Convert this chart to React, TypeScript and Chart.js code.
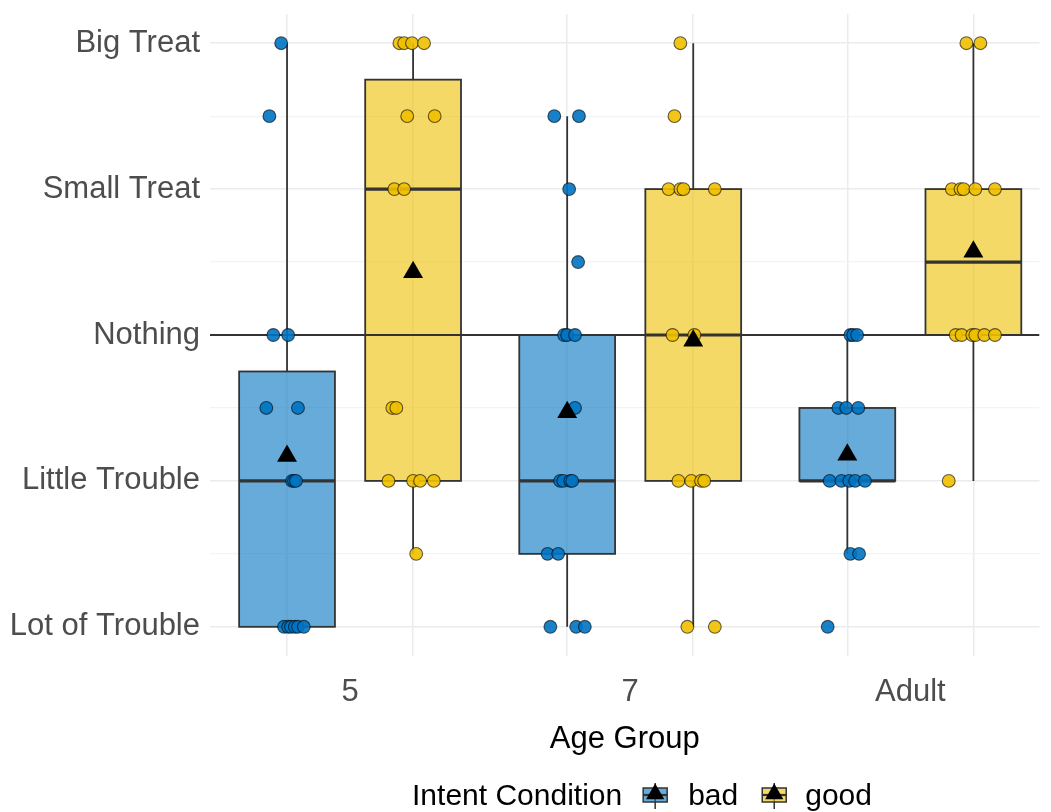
import React, { useEffect, useRef } from 'react';
import { Chart, registerables } from 'chart.js';

Chart.register(...registerables);

const FONT = '"Liberation Sans", Arial, sans-serif';

// ---- categories / labels ----
const ageGroups = ['5', '7', 'Adult'];
const outcomeLabels = ['Lot of Trouble', 'Little Trouble', 'Nothing', 'Small Treat', 'Big Treat'];
const conditionNames = ['bad', 'good'];
const legendTitle = 'Intent Condition';
const xTitle = 'Age Group';

// ---- box statistics (per age group) ----
const badQ1 = [1, 1.5, 2];
const badMedian = [2, 2, 2];
const badQ3 = [2.75, 3, 2.5];
const badWhiskerLow = [1, 1, 1.5];
const badWhiskerHigh = [5, 4.5, 3];
const badMean = [2.17, 2.47, 2.18];

const goodQ1 = [2, 2, 3];
const goodMedian = [4, 3, 3.5];
const goodQ3 = [4.75, 4, 4];
const goodWhiskerLow = [1.5, 1, 2];
const goodWhiskerHigh = [5, 5, 5];
const goodMean = [3.43, 2.96, 3.57];

// ---- individual responses (score) and horizontal jitter (x units) ----
const bad5Scores = [5, 4.5, 3, 3, 2.5, 2.5, 2, 2, 2, 1, 1, 1, 1, 1, 1];
const bad5Jitter = [-0.021, -0.063, -0.049, 0.004, -0.074, 0.039, 0.018, 0.025, 0.032, -0.011, 0.004, 0.014, 0.028, 0.039, 0.06];
const good5Scores = [5, 5, 5, 5, 4.5, 4.5, 4, 4, 2.5, 2.5, 2, 2, 2, 2, 1.5];
const good5Jitter = [-0.049, -0.032, -0.004, 0.039, -0.021, 0.077, -0.067, -0.032, -0.074, -0.06, -0.088, 0.0, 0.025, 0.074, 0.011];

const bad7Scores = [4.5, 4.5, 4, 3.5, 3, 3, 3, 2.5, 2, 2, 2, 2, 1.5, 1.5, 1, 1, 1];
const bad7Jitter = [-0.046, 0.042, 0.007, 0.039, -0.011, 0.0, 0.028, 0.028, -0.025, -0.014, 0.011, 0.018, -0.07, -0.032, -0.06, 0.032, 0.063];
const good7Scores = [5, 4.5, 4, 4, 4, 4, 3, 3, 2, 2, 2, 2, 1, 1];
const good7Jitter = [-0.046, -0.067, -0.088, -0.046, -0.035, 0.077, -0.074, 0.004, -0.053, -0.007, 0.028, 0.039, -0.021, 0.077];

const badAdultScores = [3, 3, 3, 2.5, 2.5, 2.5, 2, 2, 2, 2, 2, 1.5, 1.5, 1];
const badAdultJitter = [0.011, 0.021, 0.035, -0.032, -0.004, 0.039, -0.063, -0.021, 0.007, 0.028, 0.063, 0.011, 0.042, -0.07];
const goodAdultScores = [5, 5, 4, 4, 4, 4, 4, 3, 3, 3, 3, 3, 3, 2];
const goodAdultJitter = [-0.025, 0.025, -0.077, -0.046, -0.035, 0.007, 0.077, -0.063, -0.042, -0.004, 0.007, 0.039, 0.077, -0.088];

const referenceLine = 3; // "Nothing"

// ---- styling ----
const DODGE = 0.225;
const BOX_HALF = 0.171;
const BAD_COLOR = 'rgba(0,115,194,0.9)';
const GOOD_COLOR = 'rgba(239,192,0,0.9)';
const BAD_FILL = 'rgba(0,115,194,0.6)';
const GOOD_FILL = 'rgba(239,192,0,0.6)';
const LINE_COLOR = '#333333';

const badScores = [bad5Scores, bad7Scores, badAdultScores];
const badJitter = [bad5Jitter, bad7Jitter, badAdultJitter];
const goodScores = [good5Scores, good7Scores, goodAdultScores];
const goodJitter = [good5Jitter, good7Jitter, goodAdultJitter];

const boxes = [
  { q1: badQ1, med: badMedian, q3: badQ3, lo: badWhiskerLow, hi: badWhiskerHigh, offset: -DODGE, fill: BAD_FILL },
  { q1: goodQ1, med: goodMedian, q3: goodQ3, lo: goodWhiskerLow, hi: goodWhiskerHigh, offset: DODGE, fill: GOOD_FILL },
];

const xTickValues: number[] = [];
ageGroups.forEach((_, i) => {
  xTickValues.push(i + 1 - DODGE, i + 1, i + 1 + DODGE);
});
const yTickValues: number[] = [];
for (let v = 1; v <= 5; v += 0.5) yTickValues.push(v);

function pointsFor(scores: number[][], jitter: number[][], offset: number) {
  const out: { x: number; y: number }[] = [];
  scores.forEach((arr, g) => {
    arr.forEach((v, i) => out.push({ x: g + 1 + offset + jitter[g][i], y: v }));
  });
  return out;
}

const boxPlugin = {
  id: 'ggBoxes',
  beforeDatasetsDraw(chart: any) {
    const { ctx, chartArea, scales } = chart;
    const xs = scales.x;
    const ys = scales.y;
    ctx.save();
    ctx.beginPath();
    ctx.rect(chartArea.left, chartArea.top, chartArea.right - chartArea.left, chartArea.bottom - chartArea.top);
    ctx.clip();
    boxes.forEach((b) => {
      ageGroups.forEach((_, g) => {
        const c = g + 1 + b.offset;
        const xc = xs.getPixelForValue(c);
        const xl = xs.getPixelForValue(c - BOX_HALF);
        const xr = xs.getPixelForValue(c + BOX_HALF);
        const yq1 = ys.getPixelForValue(b.q1[g]);
        const yq3 = ys.getPixelForValue(b.q3[g]);
        const ymed = ys.getPixelForValue(b.med[g]);
        const ylo = ys.getPixelForValue(b.lo[g]);
        const yhi = ys.getPixelForValue(b.hi[g]);
        ctx.strokeStyle = LINE_COLOR;
        ctx.lineWidth = 1.8;
        ctx.beginPath();
        ctx.moveTo(xc, yq3);
        ctx.lineTo(xc, yhi);
        ctx.moveTo(xc, yq1);
        ctx.lineTo(xc, ylo);
        ctx.stroke();
        ctx.fillStyle = b.fill;
        ctx.fillRect(xl, yq3, xr - xl, yq1 - yq3);
        ctx.lineWidth = 1.8;
        ctx.strokeRect(xl, yq3, xr - xl, yq1 - yq3);
        ctx.lineWidth = 3.2;
        ctx.beginPath();
        ctx.moveTo(xl, ymed);
        ctx.lineTo(xr, ymed);
        ctx.stroke();
      });
    });
    const yRef = ys.getPixelForValue(referenceLine);
    ctx.strokeStyle = LINE_COLOR;
    ctx.lineWidth = 1.8;
    ctx.beginPath();
    ctx.moveTo(chartArea.left, yRef);
    ctx.lineTo(chartArea.right, yRef);
    ctx.stroke();
    ctx.restore();
  },
};

function drawKey(ctx: CanvasRenderingContext2D, x: number, cy: number, fill: string) {
  const w = 28;
  const cx = x + w / 2;
  ctx.strokeStyle = LINE_COLOR;
  ctx.lineWidth = 1.5;
  ctx.beginPath();
  ctx.moveTo(cx, cy - 14);
  ctx.lineTo(cx, cy + 12);
  ctx.stroke();
  ctx.fillStyle = fill;
  ctx.fillRect(x + 2, cy - 9, w - 4, 14);
  ctx.strokeRect(x + 2, cy - 9, w - 4, 14);
  ctx.lineWidth = 2.2;
  ctx.beginPath();
  ctx.moveTo(x + 2, cy - 2);
  ctx.lineTo(x + w - 2, cy - 2);
  ctx.stroke();
  const r = 10.5;
  const ty = cy - 3;
  ctx.fillStyle = '#000';
  ctx.beginPath();
  ctx.moveTo(cx, ty - r);
  ctx.lineTo(cx + (r * Math.sqrt(3)) / 2, ty + r / 2);
  ctx.lineTo(cx - (r * Math.sqrt(3)) / 2, ty + r / 2);
  ctx.closePath();
  ctx.fill();
}

const legendPlugin = {
  id: 'ggLegend',
  afterDraw(chart: any) {
    const ctx: CanvasRenderingContext2D = chart.ctx;
    ctx.save();
    ctx.font = `30px ${FONT}`;
    ctx.textBaseline = 'middle';
    const cy = 797;
    const keyW = 28;
    const wTitle = ctx.measureText(legendTitle).width;
    const wBad = ctx.measureText(conditionNames[0]).width;
    const wGood = ctx.measureText(conditionNames[1]).width;
    const total = wTitle + 19 + keyW + 19 + wBad + 22 + keyW + 17 + wGood;
    let x = 642 - total / 2;
    ctx.fillStyle = '#000';
    ctx.fillText(legendTitle, x, cy);
    x += wTitle + 19;
    drawKey(ctx, x, cy, BAD_FILL);
    x += keyW + 19;
    ctx.fillStyle = '#000';
    ctx.fillText(conditionNames[0], x, cy);
    x += wBad + 22;
    drawKey(ctx, x, cy, GOOD_FILL);
    x += keyW + 17;
    ctx.fillStyle = '#000';
    ctx.fillText(conditionNames[1], x, cy);
    ctx.restore();
  },
};

export default function App() {
  const canvasRef = useRef<HTMLCanvasElement | null>(null);

  useEffect(() => {
    document.body.style.margin = '0';
    const canvas = canvasRef.current;
    if (!canvas) return;
    const chart = new Chart(canvas, {
      type: 'scatter',
      data: {
        datasets: [
          {
            label: 'bad mean',
            data: badMean.map((m, g) => ({ x: g + 1 - DODGE, y: m })),
            pointStyle: 'triangle',
            pointRadius: 11.5,
            backgroundColor: '#000',
            borderColor: '#000',
            borderWidth: 0,
          },
          {
            label: 'good mean',
            data: goodMean.map((m, g) => ({ x: g + 1 + DODGE, y: m })),
            pointStyle: 'triangle',
            pointRadius: 11.5,
            backgroundColor: '#000',
            borderColor: '#000',
            borderWidth: 0,
          },
          {
            label: conditionNames[0],
            data: pointsFor(badScores, badJitter, -DODGE),
            pointRadius: 6.4,
            borderWidth: 1.1,
            backgroundColor: BAD_COLOR,
            borderColor: 'rgba(0,0,0,0.6)',
          },
          {
            label: conditionNames[1],
            data: pointsFor(goodScores, goodJitter, DODGE),
            pointRadius: 6.4,
            borderWidth: 1.1,
            backgroundColor: GOOD_COLOR,
            borderColor: 'rgba(0,0,0,0.6)',
          },
        ],
      },
      options: {
        animation: false,
        responsive: false,
        maintainAspectRatio: false,
        events: [],
        layout: { padding: { top: 14, right: 0, left: 0, bottom: 54.1 } },
        plugins: {
          legend: { display: false },
          tooltip: { enabled: false },
        },
        scales: {
          x: {
            type: 'linear',
            min: 0.5,
            max: 3.461,
            afterBuildTicks: (s: any) => {
              s.ticks = xTickValues.map((v) => ({ value: v }));
            },
            afterFit: (s: any) => {
              s.height = 101.9;
              s.paddingLeft = 0;
              s.paddingRight = 0;
              s.paddingTop = 0;
              s.paddingBottom = 0;
            },
            ticks: {
              autoSkip: false,
              maxRotation: 0,
              padding: 18,
              color: '#4D4D4D',
              font: { family: FONT, size: 31 },
              callback: (v: any) => {
                const n = Number(v);
                return Math.abs(n - Math.round(n)) < 1e-6 ? ageGroups[Math.round(n) - 1] : '';
              },
            },
            grid: {
              drawTicks: false,
              color: (c: any) => {
                const n = c.tick ? c.tick.value : 0;
                return Math.abs(n - Math.round(n)) < 1e-6 ? 'rgba(0,0,0,0)' : '#EBEBEB';
              },
              lineWidth: 1.5,
            },
            border: { display: false },
            title: {
              display: true,
              text: xTitle,
              color: '#000',
              font: { family: FONT, size: 31 },
              padding: { top: 1, bottom: 0 },
            },
          },
          y: {
            type: 'linear',
            min: 0.8,
            max: 5.2,
            afterBuildTicks: (s: any) => {
              s.ticks = yTickValues.map((v) => ({ value: v }));
            },
            afterFit: (s: any) => {
              s.width = 210;
              s.paddingTop = 0;
              s.paddingBottom = 0;
            },
            ticks: {
              autoSkip: false,
              padding: 10,
              color: '#4D4D4D',
              font: { family: FONT, size: 31 },
              callback: (v: any) => {
                const n = Number(v);
                return Math.abs(n - Math.round(n)) < 1e-6 ? outcomeLabels[Math.round(n) - 1] : '';
              },
            },
            grid: {
              drawTicks: false,
              color: (c: any) => {
                const n = c.tick ? c.tick.value : 0;
                return Math.abs(n - Math.round(n)) < 1e-6 ? '#EBEBEB' : '#F3F3F3';
              },
              lineWidth: (c: any) => {
                const n = c.tick ? c.tick.value : 0;
                return Math.abs(n - Math.round(n)) < 1e-6 ? 1.6 : 1.2;
              },
            },
            border: { display: false },
          },
        },
      },
      plugins: [boxPlugin, legendPlugin],
    } as any);
    return () => chart.destroy();
  }, []);

  return (
    <div style={{ width: 1051, height: 812, position: 'relative' }}>
      <canvas ref={canvasRef} width={1051} height={812} style={{ display: 'block' }} />
    </div>
  );
}
